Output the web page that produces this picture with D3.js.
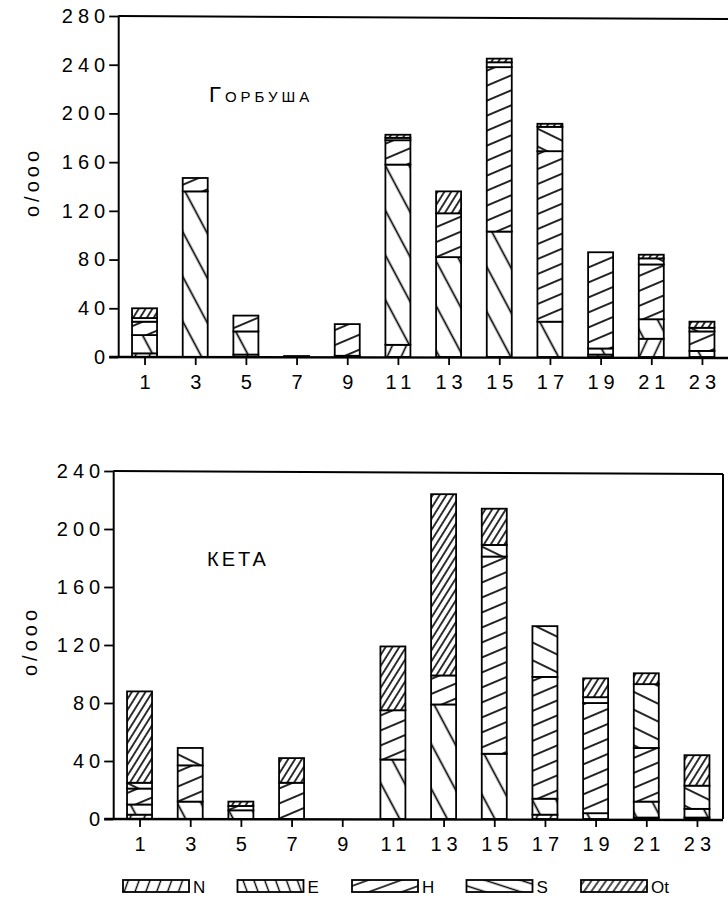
<!DOCTYPE html>
<html>
<head>
<meta charset="utf-8">
<script src="https://cdn.jsdelivr.net/npm/d3@7"></script>
<style>
  html, body { margin: 0; padding: 0; background: #fff; }
  svg { display: block; }
  text { font-family: "Liberation Sans", Arial, sans-serif; fill: #000; }
</style>
</head>
<body>
<svg id="chart" width="728" height="915"></svg>
<script>
// Hours of day (odd hours) on the x axis
const hours = [1, 3, 5, 7, 9, 11, 13, 15, 17, 19, 21, 23];
const seriesKeys = ["N", "E", "H", "S", "Ot"];

// Горбуша — stacked segment heights, o/ooo
const pinkN  = [3, 0, 2, 0, 1, 10, 0, 0, 0, 2, 15, 0];
const pinkE  = [15, 136, 19, 0, 0, 148, 82, 103, 29, 5, 16, 5];
const pinkH  = [11, 11, 13, 0.8, 26, 20, 36, 135, 140, 79, 45, 16];
const pinkS  = [3, 0, 0, 0, 0, 2, 0, 4, 20, 0, 5, 3];
const pinkOt = [8, 0, 0, 0, 0, 2.5, 18, 3, 2.5, 0, 3, 5];

// Кета — stacked segment heights, o/ooo
const chumN  = [3, 0, 0, 0, 0, 0, 0, 0, 3, 0, 1, 1];
const chumE  = [7, 12, 6, 0, 0, 41, 79, 45, 11, 4, 11, 6];
const chumH  = [11, 25, 3, 25, 0, 34, 20, 136, 84, 76, 37, 0];
const chumS  = [4, 12, 0, 0, 0, 0, 0, 8, 35, 4, 44, 16];
const chumOt = [63, 0, 3, 17, 0, 44, 125, 25, 0, 13, 7.5, 21];

const pinkTicks = [0, 40, 80, 120, 160, 200, 240, 280];
const chumTicks = [0, 40, 80, 120, 160, 200, 240];
const yAxisLabel = "o/ooo";

const svg = d3.select("#chart");
const defs = svg.append("defs");

// Line hatch fills: slant "/" or "\", angle from horizontal, gap between lines
function hatch(id, slant, angle, gap, width) {
  const rot = slant === "/" ? 90 - angle : -(90 - angle);
  const p = defs.append("pattern")
    .attr("id", id)
    .attr("patternUnits", "userSpaceOnUse")
    .attr("width", gap).attr("height", 10)
    .attr("patternTransform", `rotate(${rot})`);
  p.append("rect").attr("width", gap).attr("height", 10).attr("fill", "#fff");
  p.append("line")
    .attr("x1", gap / 2).attr("x2", gap / 2)
    .attr("y1", -1).attr("y2", 11)
    .attr("stroke", "#000").attr("stroke-width", width);
}
hatch("fill-N",  "/", 65, 12.7, 1.6);
hatch("fill-E",  "\\", 62, 21, 1.7);
hatch("fill-H",  "/", 23, 13.8, 1.7);
hatch("fill-S",  "\\", 26, 16, 1.7);
hatch("fill-Ot", "/", 58, 5.8, 1.6);

hatch("key-N",  "/", 70, 10.2, 1.4);
hatch("key-E",  "\\", 70, 10.2, 1.4);
hatch("key-H",  "/", 20, 11.3, 1.5);
hatch("key-S",  "\\", 18, 11, 1.5);
hatch("key-Ot", "/", 55, 6, 1.4);

const tickFont = 20, tickSpacing = 5;

function drawPanel(cfg) {
  const { title, series, ticks, xRange, yRange, frameRight, titlePos, labelPos, smallCaps, titleSize, titleSpacing } = cfg;
  const maxY = ticks[ticks.length - 1];
  const x = d3.scaleLinear().domain([0, 24]).range(xRange);
  const y = d3.scaleLinear().domain([0, maxY]).range(yRange);
  const axisX = xRange[0] - 1;
  const g = svg.append("g");

  const rows = hours.map((h, i) => {
    const r = { hour: h };
    seriesKeys.forEach(k => { r[k] = series[k][i]; });
    return r;
  });
  const stacked = d3.stack().keys(seriesKeys)(rows);
  const barW = 25;

  // bars
  stacked.forEach(layer => {
    g.append("g").selectAll("rect")
      .data(layer.filter(d => d[1] - d[0] > 0))
      .join("rect")
      .attr("x", d => x(d.data.hour) - barW / 2)
      .attr("width", barW)
      .attr("y", d => y(d[1]))
      .attr("height", d => Math.max(y(d[0]) - y(d[1]), 0.8))
      .attr("fill", `url(#fill-${layer.key})`)
      .attr("stroke", "#000")
      .attr("stroke-width", 1.8);
  });

  // frame top and baseline
  g.append("line")
    .attr("x1", axisX).attr("x2", frameRight)
    .attr("y1", y(maxY)).attr("y2", y(maxY) + 3)
    .attr("stroke", "#000").attr("stroke-width", 2);
  g.append("line")
    .attr("x1", axisX - 9).attr("x2", frameRight)
    .attr("y1", y(0)).attr("y2", y(0) + 1)
    .attr("stroke", "#000").attr("stroke-width", 2.4);
  if (frameRight < 728) {
    g.append("line")
      .attr("x1", frameRight).attr("x2", frameRight)
      .attr("y1", y(maxY) + 3).attr("y2", y(0))
      .attr("stroke", "#000").attr("stroke-width", 2);
  }

  // y axis
  const ya = g.append("g")
    .attr("transform", `translate(${axisX},0)`)
    .call(d3.axisLeft(y).tickValues(ticks).tickSize(9).tickSizeOuter(0).tickPadding(3));
  ya.select(".domain").attr("stroke-width", 2);
  ya.selectAll(".tick line").attr("stroke-width", 1.8);
  ya.selectAll(".tick text")
    .attr("font-size", tickFont).attr("letter-spacing", tickSpacing).attr("dx", tickSpacing - 1)
    .attr("font-family", "Liberation Sans, Arial, sans-serif");

  // x axis
  const xa = g.append("g")
    .attr("transform", `translate(0,${y(0)})`)
    .call(d3.axisBottom(x).tickValues(hours).tickSize(8).tickPadding(10));
  xa.select(".domain").remove();
  xa.selectAll(".tick line").attr("stroke-width", 1.8);
  xa.selectAll(".tick text")
    .attr("font-size", tickFont).attr("letter-spacing", tickSpacing).attr("dx", tickSpacing / 2)
    .attr("font-family", "Liberation Sans, Arial, sans-serif");

  // axis title
  g.append("text")
    .attr("transform", `translate(${labelPos[0]},${labelPos[1]}) rotate(-90)`)
    .attr("text-anchor", "middle")
    .attr("dx", 2)
    .attr("font-size", 20).attr("letter-spacing", 4)
    .text(yAxisLabel);

  // panel title
  g.append("text")
    .attr("x", titlePos[0]).attr("y", titlePos[1])
    .attr("font-size", titleSize)
    .attr("letter-spacing", titleSpacing)
    .style("font-variant-caps", smallCaps ? "small-caps" : "normal")
    .text(title);
}

drawPanel({
  title: "Горбуша",
  series: { N: pinkN, E: pinkE, H: pinkH, S: pinkS, Ot: pinkOt },
  ticks: pinkTicks,
  xRange: [119.2, 727.3],
  yRange: [357, 16],
  frameRight: 731,
  titlePos: [209, 102],
  titleSize: 22,
  titleSpacing: 4,
  smallCaps: true,
  labelPos: [39, 184]
});

drawPanel({
  title: "КЕТА",
  series: { N: chumN, E: chumE, H: chumH, S: chumS, Ot: chumOt },
  ticks: chumTicks,
  xRange: [114.2, 722.3],
  yRange: [819, 471],
  frameRight: 723,
  titlePos: [207, 566],
  titleSize: 20,
  titleSpacing: 3,
  smallCaps: false,
  labelPos: [37, 643]
});

// legend
const legend = svg.append("g").attr("transform", "translate(123,880)");
const keyX = d3.scalePoint().domain(seriesKeys).range([0, 458]);
const item = legend.selectAll("g").data(seriesKeys).join("g")
  .attr("transform", d => `translate(${keyX(d)},0)`);
item.append("rect")
  .attr("width", 66).attr("height", 12)
  .attr("fill", d => `url(#key-${d})`)
  .attr("stroke", "#000").attr("stroke-width", 1.8);
item.append("text")
  .attr("x", 70).attr("y", 12.5)
  .attr("font-size", 17)
  .text(d => d);
</script>
</body>
</html>
